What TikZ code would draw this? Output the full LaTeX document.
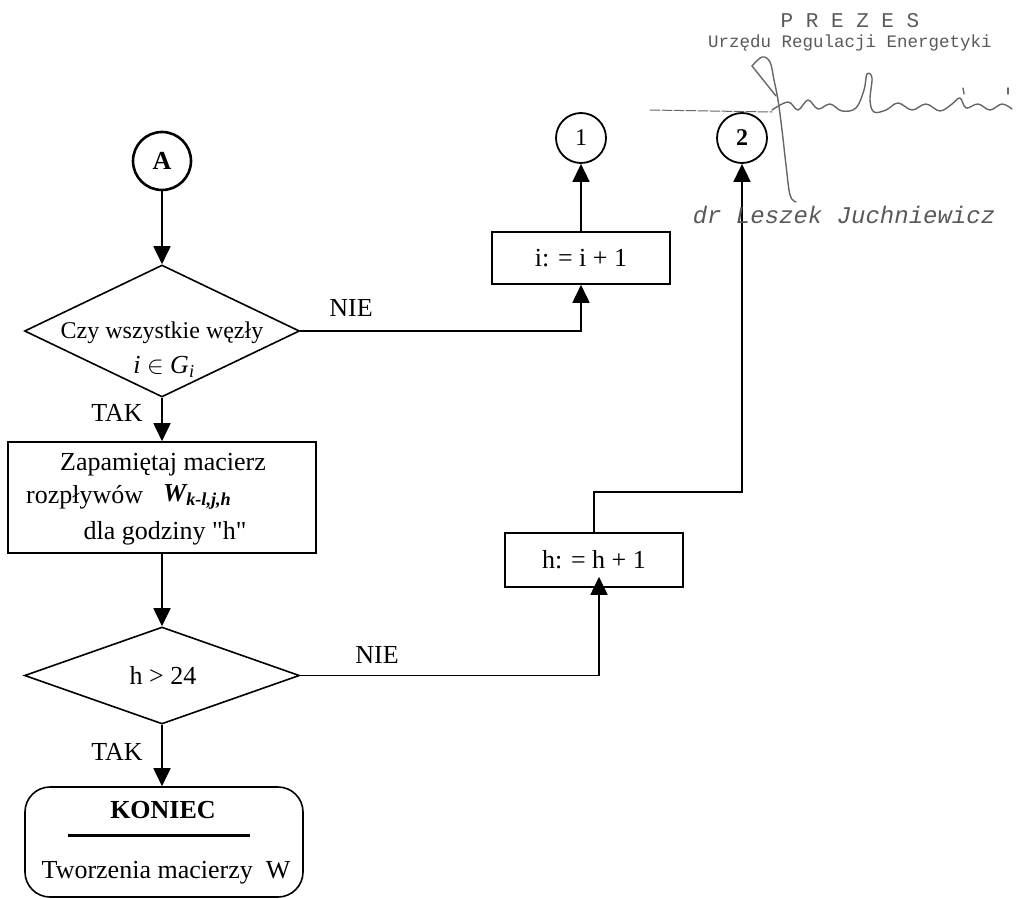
\documentclass[tikz,border=0pt]{standalone}
\usepackage{fontspec}
\setmainfont{Liberation Serif}
\newfontfamily\rawserif{Liberation Serif}[Ligatures=TeXOff]
\newfontfamily\stampfont{Liberation Mono}
\usetikzlibrary{arrows.meta,shapes.geometric,calc}
\begin{document}
\begin{tikzpicture}[x=1pt,y=-1pt,
  every node/.style={font=\fontsize{26}{30}\selectfont, inner sep=0pt},
  line/.style={line width=1.8pt},
  arr/.style={line, -{Triangle[width=17pt,length=18pt]}},
  box/.style={draw, rectangle, line width=1.6pt},
  dia/.style={draw, diamond, line width=1.6pt, minimum width=275pt},
  conn/.style={draw, circle, line width=1.8pt, minimum size=50pt},
  stamp/.style={text=black!65},
  sig/.style={draw=black!60, line width=1.4pt, line cap=round, line join=round},
]
\useasboundingbox (0,0) rectangle (1025,899);

% start connector
\node[conn, minimum size=58pt, line width=2.6pt, font=\fontsize{26}{30}\selectfont\bfseries] (A) at (162,161) {A};

% first decision
\node[dia, minimum height=132pt] (d1) at (162,331) {};
\node[font=\fontsize{24}{28}\selectfont] (d1a) at (162,333) {Czy wszystkie węzły};
\node (d1b) at (164,367) {\textit{i} $\in$ \textit{G}\textsubscript{\textit{i}}};

% store matrix
\node[box, minimum width=308pt, minimum height=111pt] (b1) at (162,497.5) {};
\node (b1a) at (163,465) {Zapamiętaj macierz};
\node[anchor=west] (b1b) at (26,497) {rozpływów};
\node[anchor=west] (b1w) at (163,497) {\bfseries\itshape W\textsubscript{k-l,j,h}};
\node[font=\rawserif\fontsize{26}{30}\selectfont] (b1c) at (165,533) {dla godziny "h"};

% second decision
\node[dia, minimum height=97pt] (d2) at (162,675.5) {};
\node (d2a) at (163,675) {h > 24};

% end terminal
\node[draw, line width=1.6pt, rounded corners=25pt, minimum width=278pt, minimum height=110pt] (e) at (164,842) {};
\node[font=\fontsize{26}{30}\selectfont\bfseries] (e1) at (163,810) {KONIEC};
\node (e2) at (159,835) {\rule{182pt}{3pt}};
\node (e3) at (166,873) {Tworzenia macierzy\ \ W};

% right branch
\node[box, minimum width=178pt, minimum height=52pt] (ib) at (581,258) {i: = i + 1};
\node[conn, font=\fontsize{24}{28}\selectfont] (c1) at (581,138) {1};
\node[conn, font=\fontsize{24}{28}\selectfont\bfseries] (c2) at (742,138) {2};
\node[box, minimum width=178pt, minimum height=54pt] (hb) at (594,560) {h: = h + 1};
\coordinate (turn) at (742,492);

% branch labels
\node (nie1) at (351,308) {NIE};
\node (nie2) at (377,655) {NIE};
\node (tak1) at (117,413) {TAK};
\node (tak2) at (117,752) {TAK};

% main flow
\draw[arr] (A) -- (d1.north);
\draw[arr] (d1.south) -- (b1.north);
\draw[arr] (b1.south) -- (d2.north);
\draw[arr] (d2.south) -- (d2.south |- e.north);

% loops
\draw[arr] (d1.east) -| (ib.south);
\draw[arr] (ib.north) -- (c1.south);
\draw[arr, shorten >=-11pt] (d2.east) -| ([xshift=5pt]hb.south);
\draw[arr] (hb.north) |- (turn) -- (c2.south);

% stamp and signature
\node[stamp, font=\stampfont\fontsize{21}{24}\selectfont] (pz) at (850,21) {P R E Z E S};
\node[stamp, font=\stampfont\fontsize{17.5}{20}\selectfont] (urz) at (850,43) {Urzędu Regulacji Energetyki};
\node[stamp, font=\stampfont\fontsize{24}{28}\selectfont\itshape] (dr) at (844,215) {dr Leszek Juchniewicz};

\draw[sig, line width=1pt, dash pattern=on 10pt off 2pt] (650,110) -- (772,112);
\draw[sig] plot[smooth, tension=0.6] coordinates {(752,66) (762,57) (770,62) (774,80) (778,100) (782,130) (786,165) (790,195) (796,202)};
\draw[sig] (752,66) -- (776,96);
\draw[sig] plot[smooth, tension=0.6] coordinates {(772,110) (788,102) (798,110) (808,100) (818,109) (830,104) (842,111) (856,108) (864,90) (867,74) (872,78) (870,100) (874,112) (886,110) (898,103) (912,110) (926,104) (940,111) (952,104) (960,98) (966,108) (978,104) (990,110) (1002,104) (1012,109)};
\draw[sig] (963,88) -- (964,94);
\draw[sig] (1008,88) -- (1008,94);
\end{tikzpicture}
\end{document}
